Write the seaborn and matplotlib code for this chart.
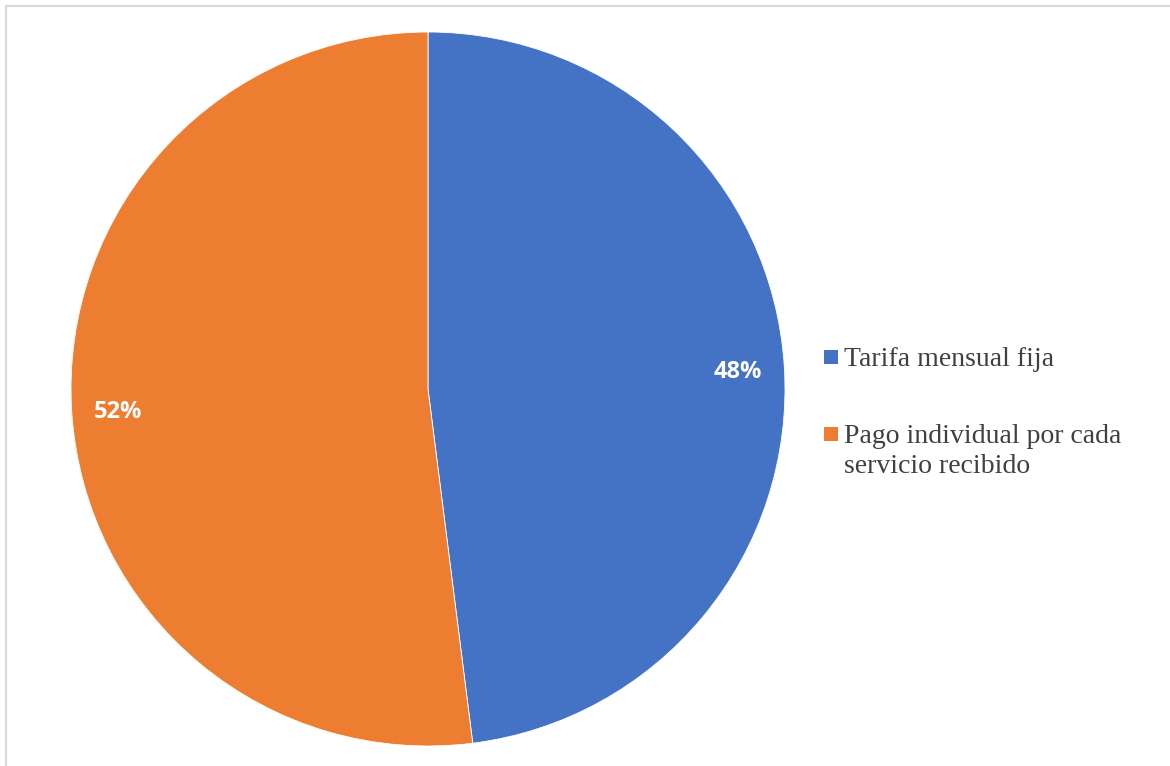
import matplotlib
matplotlib.use("Agg")
import matplotlib.pyplot as plt
from matplotlib.lines import Line2D
from matplotlib.patches import Rectangle
import seaborn as sns

# Survey answers: preferred payment scheme
categories = ["Tarifa mensual fija", "Pago individual por cada\nservicio recibido"]
shares = [48, 52]
slice_colors = ["#4472C4", "#ED7D31"]

sns.set_theme(style="white")

W, H = 1170, 766
fig = plt.figure(figsize=(W / 100, H / 100), dpi=100)
fig.patch.set_facecolor("white")

# Square axes holding the pie (center ~ (428, 389) px, radius ~357 px)
cx, cy, r = 428, 389, 357
ax = fig.add_axes([(cx - r) / W, (H - cy - r) / H, 2 * r / W, 2 * r / H])

wedges, _, autotexts = ax.pie(
    shares,
    colors=slice_colors,
    startangle=90,
    counterclock=False,
    radius=1.0,
    autopct=lambda p: f"{p:.0f}%",
    pctdistance=0.87,
    wedgeprops=dict(edgecolor="white", linewidth=0.6),
    textprops=dict(color="white", fontsize=17, fontweight="bold", family="Open Sans",
                   va="center_baseline"),
)
ax.set_xlim(-1, 1)
ax.set_ylim(-1, 1)
ax.set_aspect("equal")
ax.axis("off")


def px(x, y):
    """Pixel position (from top-left) to figure fraction."""
    return x / W, 1 - y / H


# Legend: colour square aligned with the first text line of each entry
legend_baselines = [366, 443]
line_step = 30
sq = 14
for label, color, base in zip(categories, slice_colors, legend_baselines):
    x0, y0 = px(824, base - 2)
    fig.add_artist(Rectangle((x0, y0), sq / W, sq / H, transform=fig.transFigure,
                             facecolor=color, edgecolor="none"))
    for k, line in enumerate(label.split("\n")):
        tx, ty = px(844, base + k * line_step)
        fig.text(tx, ty, line, ha="left", va="baseline", family="Liberation Serif",
                 fontsize=20, color="#404040")

# Thin gray frame along the top and left edges
fig.add_artist(Line2D([6 / W, 1], [1 - 6 / H, 1 - 6 / H], transform=fig.transFigure,
                      color="#D9D9D9", linewidth=1.6))
fig.add_artist(Line2D([6 / W, 6 / W], [0, 1 - 6 / H], transform=fig.transFigure,
                      color="#D9D9D9", linewidth=1.6))

fig.savefig("out.png", dpi=100, facecolor="white")
